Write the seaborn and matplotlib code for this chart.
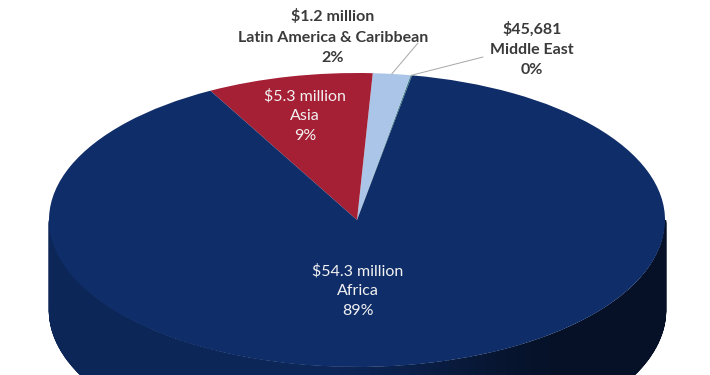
import numpy as np
import matplotlib.pyplot as plt
import seaborn as sns

# Funding by region ($ millions), listed counter-clockwise from the start angle
regions = ["Middle East", "Latin America & Caribbean", "Asia", "Africa"]
amounts = [0.045681, 1.2, 5.3, 54.3]
amount_labels = ["$45,681", "$1.2 million", "$5.3 million", "$54.3 million"]
colors = ["#3f7f86", "#abc5e8", "#a51f35", "#0f2d68"]

sns.set_theme(style="white")
plt.rcParams['font.family'] = ['Lato', 'DejaVu Sans']

W, H = 710, 375
# top face of the pie as an ellipse, in pixels
cx, cy, rx, ry = 357, 220, 308, 147
depth = 90 / ry
start = 79.7


def px(x, y):
    # pixel position -> data units of the squashed pie
    return (x - cx) / rx, (cy - y) / ry


fig = plt.figure(figsize=(W / 100, H / 100), dpi=100)
ax = fig.add_axes([0, 0, 1, 1])

total = sum(amounts)
pcts = [a / total * 100 for a in amounts]
bounds = start + np.concatenate([[0], np.cumsum(pcts)]) * 3.6

# side wall of the front half, shaded darker towards the right
theta = np.linspace(180, 360, 361)
for i in range(len(theta) - 1):
    mid = 0.5 * (theta[i] + theta[i + 1])
    a = (mid - start) % 360 + start
    idx = min(np.searchsorted(bounds, a) - 1, len(amounts) - 1)
    xm = np.cos(np.radians(mid))
    t = np.clip((xm + 0.15) / 0.85, 0, 1)
    t = t * t * (3 - 2 * t)
    f = 0.85 - 0.47 * t
    base = np.array(sns.color_palette([colors[idx]])[0])
    shade = tuple(base * f)
    th = np.radians(theta[i:i + 2])
    xs = np.cos(th)
    ys = np.sin(th)
    ax.fill_between(xs, ys - depth, ys, color=shade, lw=1.0, edgecolor=shade,
                    antialiased=False, zorder=1)

ax.pie(amounts, colors=colors, startangle=start, counterclock=True, radius=1,
       center=(0, 0), wedgeprops=dict(linewidth=0), frame=True)

ax.set_aspect('auto')
ax.set_xlim(px(0, 0)[0], px(W, 0)[0])
ax.set_ylim(px(0, H)[1], px(0, 0)[1])
ax.axis('off')

# labels inside the big slices
inner = {3: (358, 291), 2: (305, 116)}
for idx, (x, y) in inner.items():
    txt = f"{amount_labels[idx]}\n{regions[idx]}\n{pcts[idx]:.0f}%"
    ax.text(*px(x, y), txt, ha='center', va='center', color='#f2f2f2',
            fontsize=11.5, linespacing=1.55, zorder=5)

# labels outside the small slices, with leader lines
outer = {1: ((333, 37), (418, 43)), 0: ((532, 49), (483, 57))}
for idx, ((x, y), (lx, ly)) in outer.items():
    txt = f"{amount_labels[idx]}\n{regions[idx]}\n{pcts[idx]:.0f}%"
    ax.text(*px(x, y), txt, ha='center', va='center', color='#3a3a3a',
            fontsize=11.5, fontweight='bold', linespacing=1.55, zorder=5)
    mid = np.radians(0.5 * (bounds[idx] + bounds[idx + 1]))
    ex, ey = px(lx, ly)
    ax.plot([np.cos(mid), ex], [np.sin(mid), ey], color='#a6a6a6', lw=0.7, zorder=4)

fig.savefig("out.png", dpi=100)
